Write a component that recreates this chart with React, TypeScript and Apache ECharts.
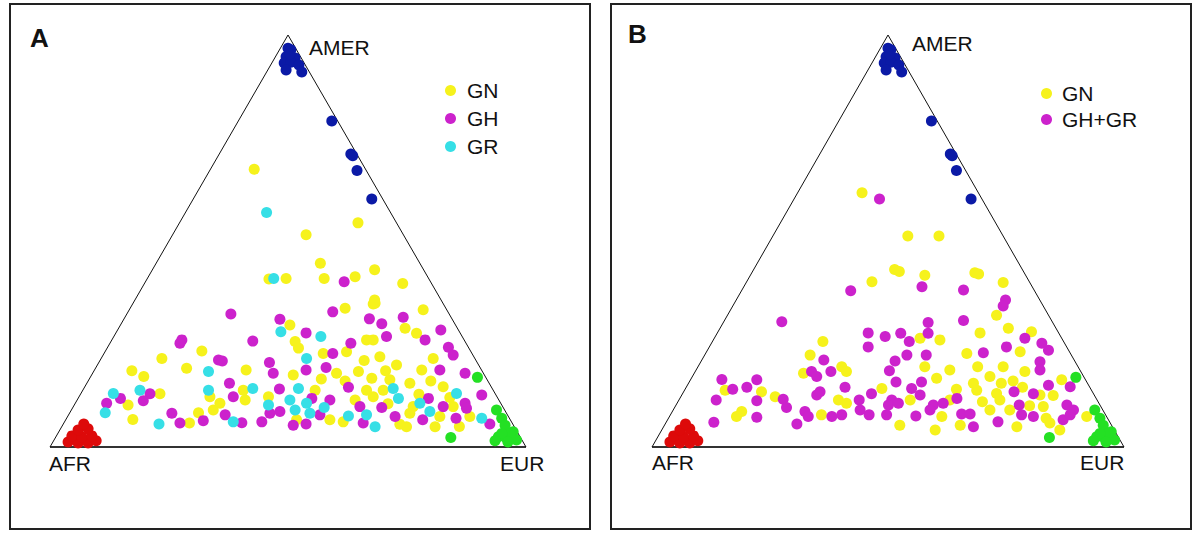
import React, { useEffect, useRef } from "react";
import * as echarts from "echarts";

const FONT = '"Liberation Sans", Arial, Helvetica, sans-serif';

// Triangle frame (x along base 0..100, y = AMER share 0..100)
const TRI_BASE = [[0, 0], [100, 0]];
const TRI_SIDES = [[0, 0], [50, 100], [100, 0]];

// Reference populations (same in both panels)
const AFR_REF = [[3.8, 1.2], [5.9, 1.0], [8.0, 1.0], [9.7, 1.5], [4.6, 2.7], [6.7, 2.4], [8.8, 2.7], [5.9, 4.1], [8.0, 4.4], [7.1, 5.6]];
const AMER_REF = [[50, 96.8], [50.6, 96.4], [49.6, 94.7], [51.5, 94.4], [49.2, 93.2], [50.6, 93.4], [52.3, 92.7], [49.6, 91.5], [52.9, 91.0], [50.4, 95.4], [59.2, 79.1], [63.2, 71.1], [63.6, 70.7], [64.5, 67.1], [67.6, 60.2]];
const EUR_REF = [[89.8, 16.9], [84.2, 2.3], [93.8, 9.0], [94.9, 7.0], [95.6, 5.3], [94.2, 2.5], [95.9, 2.1], [97.3, 3.7], [98.0, 1.7], [96.6, 3.3], [94.9, 3.3], [96.2, 1.2], [93.5, 1.5]];

// Panel A
const A_GN = [[42.9, 67.4], [64.7, 54.4], [53.8, 51.5], [56.8, 44.6], [68.2, 43.0], [46.0, 40.8], [49.6, 40.9], [57.6, 40.9], [64.1, 41.3], [74.1, 39.7], [68.2, 35.7],
  [31.9, 23.3], [23.5, 21.5], [28.7, 19.1], [17.2, 18.5], [19.7, 17.1], [23.1, 12.9], [16.4, 10.2], [17.4, 6.7], [29.3, 5.8], [31.2, 8.3], [33.6, 12.2], [34.3, 9.0],
  [50.4, 29.6], [62.0, 33.7], [67.9, 34.7], [51.5, 25.6], [52.2, 24.0], [66.5, 26.0], [57.4, 22.7], [62.3, 23.1], [41.2, 18.7], [51.1, 17.5], [60.2, 17.9], [64.8, 18.3], [55.7, 13.8], [66.5, 13.8], [41.0, 11.4], [35.7, 10.6], [64.1, 11.4], [51.8, 6.6], [58.8, 6.6], [61.6, 6.1], [40.6, 13.8], [45.9, 12.2],
  [68.3, 34.9], [78.4, 33.3], [74.6, 28.8], [77.0, 27.6], [67.9, 26.0], [69.3, 21.9], [72.8, 19.9], [78.1, 18.7], [80.5, 21.5], [67.6, 16.7], [71.4, 16.3], [75.6, 15.5], [82.6, 14.6], [75.6, 8.2], [81.9, 7.4], [88.2, 7.4], [74.9, 4.9], [80.9, 4.9], [67.9, 12.2], [70.0, 13.8], [76.3, 9.8], [84.7, 9.8],
  [71.0, 10.5], [73.5, 5.5], [77.5, 12.8], [80.0, 16.0], [84.0, 12.0], [86.0, 5.0], [70.5, 18.5], [66.0, 21.0], [62.0, 16.0], [57.0, 16.5]];
const A_GH = [[61.8, 40.1],
  [27.7, 26.0], [27.3, 25.2], [35.4, 21.1], [14.8, 11.8], [21.0, 12.9], [19.6, 11.2], [11.9, 10.6], [25.6, 8.2], [27.3, 5.8], [32.2, 6.4],
  [38.0, 32.3], [48.3, 31.0], [59.4, 32.8], [67.1, 31.1], [42.6, 25.7], [53.8, 27.7], [63.2, 25.2], [36.2, 20.9], [46.1, 20.5], [46.9, 17.9], [53.8, 18.7], [58.0, 19.3], [59.4, 22.7], [37.7, 15.5], [48.2, 14.1], [62.7, 14.5], [38.5, 12.2], [55.0, 11.8], [58.8, 11.4], [65.1, 9.8], [46.2, 8.2], [48.3, 8.6], [56.7, 7.8], [36.8, 7.8], [40.3, 5.9], [44.5, 6.1], [51.1, 5.3], [53.8, 5.6], [65.8, 5.8],
  [74.2, 31.5], [69.7, 29.9], [70.7, 26.8], [78.8, 26.0], [82.1, 28.4], [83.7, 24.2], [84.7, 22.3], [81.9, 18.7], [87.2, 17.9], [79.5, 11.8], [87.2, 10.6], [87.5, 9.4], [90.7, 12.6], [82.6, 9.8], [69.7, 9.6], [72.5, 7.4], [78.3, 6.6], [85.3, 7.0], [92.4, 5.6]];
const A_GR = [[45.5, 56.9], [47.0, 40.9],
  [33.3, 18.3], [13.3, 13.0], [18.9, 13.8], [11.6, 8.3], [22.9, 5.6], [33.3, 13.8],
  [48.5, 28.0], [56.9, 26.8], [53.9, 21.5], [42.6, 14.2], [52.2, 14.2], [45.9, 10.2], [50.4, 11.4], [53.9, 10.6], [57.6, 9.6], [51.5, 9.0], [54.6, 8.2], [38.5, 6.1], [62.7, 7.5], [66.5, 7.8], [68.3, 4.9],
  [72.1, 14.2], [73.2, 11.8], [85.4, 13.0], [77.7, 10.6], [79.8, 8.6], [90.7, 7.0]];

// Panel B
const B_GN = [[44.5, 61.7], [54.2, 51.2], [60.8, 51.2], [51.4, 43.1], [52.4, 42.6], [57.8, 41.7], [68.4, 42.3], [69.2, 42.0], [46.6, 40.1], [74.4, 39.9],
  [15.5, 13.8], [23.2, 13.4], [26.1, 12.2], [17.9, 7.4], [19.0, 8.6], [33.5, 22.3], [32.1, 17.9],
  [36.2, 25.6], [56.8, 26.4], [61.0, 26.0], [66.7, 22.7], [40.2, 19.5], [41.2, 18.3], [57.8, 19.5], [63.1, 18.7], [60.3, 16.7], [68.1, 15.5], [48.7, 14.2], [39.5, 11.4], [41.2, 10.6], [35.9, 7.8], [52.5, 5.3], [61.4, 7.4], [63.1, 11.4], [54.7, 11.4],
  [73.0, 32.0], [69.5, 27.7], [75.5, 28.8], [80.4, 28.0], [78.0, 23.1], [74.4, 19.5], [71.6, 17.1], [79.0, 18.3], [86.8, 16.3], [68.8, 13.8], [73.0, 13.0], [82.9, 9.8], [75.8, 9.0], [71.6, 9.0], [84.3, 5.8], [77.3, 4.9], [92.1, 7.4], [73.7, 11.4], [82.2, 12.6], [65.3, 5.3], [60.0, 4.1], [86.4, 4.1],
  [70.0, 11.0], [76.5, 16.0], [80.0, 10.0], [85.0, 12.5], [74.0, 15.5], [69.0, 19.5], [64.5, 14.0], [78.5, 14.5], [83.5, 7.0]];
const B_GHGR = [[48.2, 60.2], [42.1, 37.9], [57.2, 38.9], [66.0, 38.1], [74.9, 35.7],
  [27.5, 30.4], [14.8, 16.4], [17.1, 14.0], [20.1, 14.5], [22.2, 16.3], [27.8, 11.6], [28.5, 9.6], [13.6, 11.4], [22.2, 11.2], [22.2, 7.2], [13.1, 6.0], [30.7, 5.6], [32.4, 8.6], [33.1, 7.4], [33.8, 18.3], [34.9, 17.1], [34.9, 12.6],
  [66.0, 30.7], [58.5, 30.2], [58.5, 27.6], [45.8, 27.7], [49.4, 26.8], [52.7, 27.6], [54.5, 25.6], [45.8, 24.3], [58.1, 22.3], [54.0, 22.3], [36.4, 21.1], [51.5, 20.9], [37.9, 18.3], [50.3, 18.5], [51.7, 15.8], [57.1, 15.8], [55.0, 14.2], [40.9, 14.5], [35.6, 13.4], [46.5, 12.9], [43.9, 11.4], [50.8, 11.4], [56.8, 12.6], [59.6, 10.2], [61.7, 10.6], [64.6, 11.8], [44.1, 9.0], [46.0, 7.8], [50.1, 10.2], [49.7, 7.8], [52.2, 10.6], [55.9, 7.5], [58.9, 9.0], [65.6, 8.0], [67.4, 8.0], [68.1, 4.9], [38.1, 7.4], [40.2, 7.8],
  [74.4, 34.2], [79.0, 26.4], [82.6, 25.2], [84.0, 23.5], [70.2, 22.9], [75.1, 24.3], [82.2, 20.7], [82.2, 18.7], [84.0, 15.0], [88.6, 14.6], [76.7, 13.4], [80.8, 12.9], [77.8, 10.2], [87.9, 10.2], [89.3, 9.0], [87.1, 6.6], [88.6, 7.8], [80.8, 7.4], [73.3, 6.1], [78.3, 7.8]];

const LEGEND_A = ["GN", "GH", "GR"];
const LEGEND_B = ["GN", "GH+GR"];

const YELLOW = "#f6f21c";
const MAGENTA = "#cc22cc";
const CYAN = "#36dfe6";
const BLUE = "#0b1aa6";
const RED = "#dd0a0a";
const GREEN = "#24e024";

function scatter(name: string, data: number[][], color: string, gi: number) {
  return {
    type: "scatter", name, data, xAxisIndex: gi, yAxisIndex: gi,
    symbol: "circle", symbolSize: 11, itemStyle: { color, opacity: 1 },
    silent: true, z: 3, clip: false,
  };
}

function frame(gi: number) {
  return [
    { type: "line", data: TRI_BASE, xAxisIndex: gi, yAxisIndex: gi, symbol: "none", silent: true, z: 2, lineStyle: { color: "#333", width: 2 } },
    { type: "line", data: TRI_SIDES, xAxisIndex: gi, yAxisIndex: gi, symbol: "none", silent: true, z: 2, lineStyle: { color: "#111", width: 1 } },
  ];
}

function label(text: string, x: number, y: number, size = 21, weight = "normal") {
  return { type: "text", x, y, silent: true, style: { text, fill: "#111", font: `${weight} ${size}px ${FONT}`, textVerticalAlign: "middle" } };
}

export default function App() {
  const ref = useRef<HTMLDivElement>(null);
  useEffect(() => {
    const chart = echarts.init(ref.current!, null, { renderer: "svg" });
    const axis = (gi: number) => ({ type: "value", min: 0, max: 100, show: false, gridIndex: gi });
    chart.setOption({
      animation: false,
      backgroundColor: "#ffffff",
      grid: [
        { left: 50, top: 35, width: 476, height: 412 },
        { left: 652, top: 35, width: 472, height: 412 },
      ],
      xAxis: [axis(0), axis(1)],
      yAxis: [axis(0), axis(1)],
      legend: [
        {
          data: LEGEND_A, left: 440, top: 75, orient: "vertical", icon: "circle", itemWidth: 11, itemHeight: 11, itemGap: 7,
          selectedMode: false, textStyle: { fontFamily: FONT, fontSize: 21, color: "#111", lineHeight: 21, padding: [0, 0, 0, 6] },
        },
        {
          data: LEGEND_B, left: 1036, top: 78, orient: "vertical", icon: "circle", itemWidth: 11, itemHeight: 11, itemGap: 5,
          selectedMode: false, textStyle: { fontFamily: FONT, fontSize: 21, color: "#111", lineHeight: 21, padding: [0, 0, 0, 5] },
        },
      ],
      series: [
        ...frame(0),
        ...frame(1),
        scatter("GN", A_GN, YELLOW, 0),
        scatter("GH", A_GH, MAGENTA, 0),
        scatter("GR", A_GR, CYAN, 0),
        scatter("AFR ref", AFR_REF, RED, 0),
        scatter("AMER ref", AMER_REF, BLUE, 0),
        scatter("EUR ref", EUR_REF, GREEN, 0),
        scatter("GN", B_GN, YELLOW, 1),
        scatter("GH+GR", B_GHGR, MAGENTA, 1),
        scatter("AFR ref", AFR_REF, RED, 1),
        scatter("AMER ref", AMER_REF, BLUE, 1),
        scatter("EUR ref", EUR_REF, GREEN, 1),
      ],
      graphic: [
        { type: "rect", silent: true, shape: { x: 10, y: 4, width: 580, height: 525 }, style: { fill: "none", stroke: "#222", lineWidth: 2 } },
        { type: "rect", silent: true, shape: { x: 611, y: 4, width: 580, height: 525 }, style: { fill: "none", stroke: "#222", lineWidth: 2 } },
        label("A", 30, 38, 26, "bold"),
        label("B", 628, 34, 26, "bold"),
        label("AMER", 309, 47),
        label("AMER", 912, 43),
        label("AFR", 49, 463),
        label("EUR", 500, 463),
        label("AFR", 652, 462),
        label("EUR", 1080, 462),
      ],
    });
    return () => chart.dispose();
  }, []);
  return <div ref={ref} style={{ position: "absolute", left: 0, top: 0, width: 1197, height: 533 }} />;
}
